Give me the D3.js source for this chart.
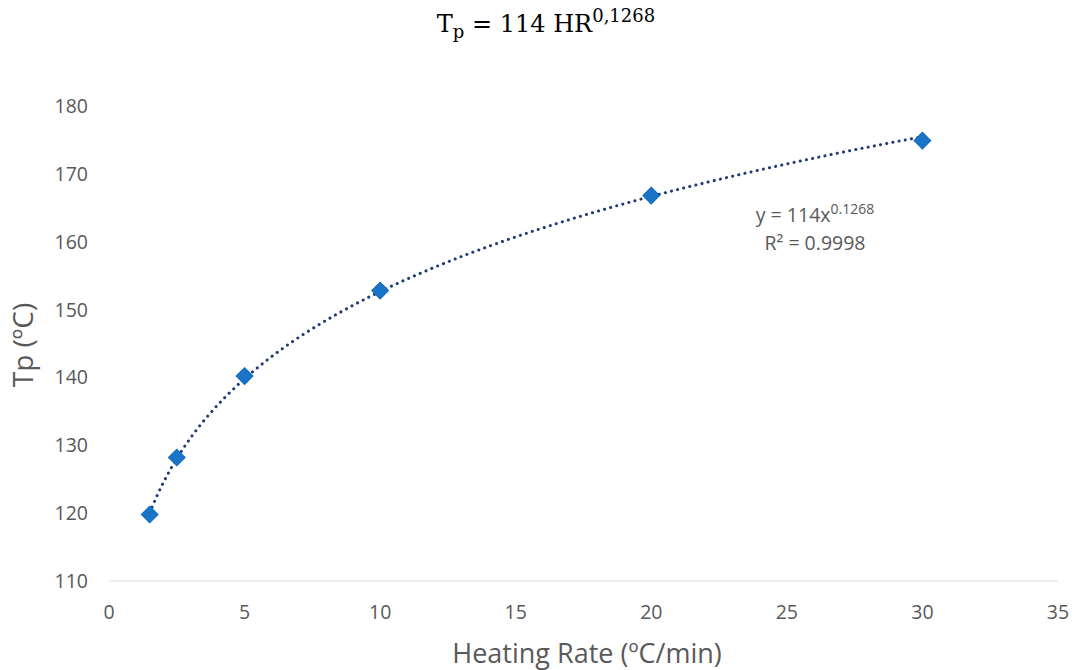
<!DOCTYPE html>
<html>
<head>
<meta charset="utf-8">
<script src="https://cdn.jsdelivr.net/npm/d3@7"></script>
<style>
  html, body { margin: 0; padding: 0; background: #fff; }
  svg { display: block; }
</style>
</head>
<body>
<svg id="chart" width="1080" height="670"></svg>
<script>
// Peak temperature vs heating rate
const heatingRate = [1.5, 2.5, 5, 10, 20, 30];
const peakTemp = [119.8, 128.2, 140.2, 152.8, 166.8, 174.9];
const xTicks = [0, 5, 10, 15, 20, 25, 30, 35];
const yTicks = [110, 120, 130, 140, 150, 160, 170, 180];
// Power-law fit: Tp = a * HR^b
const fitA = 114;
const fitB = 0.1268;
const fitR2 = "0.9998";

const svg = d3.select("#chart");
const margin = { left: 109, right: 22, top: 106, bottom: 89 };
const W = 1080, H = 670;

const x = d3.scaleLinear().domain([0, 35]).range([margin.left, W - margin.right]);
const y = d3.scaleLinear().domain([110, 180]).range([H - margin.bottom, margin.top]);

const grey = "#595959";
const font = "'Open Sans', 'Liberation Sans', sans-serif";

// Title (math style)
const title = svg.append("text")
  .attr("x", 546).attr("y", 32)
  .attr("text-anchor", "middle")
  .attr("font-family", "'DejaVu Serif', 'Liberation Serif', serif")
  .attr("font-size", 24)
  .attr("fill", "#000");
title.append("tspan").text("T");
title.append("tspan").attr("font-size", 18).attr("dy", 6).text("p");
title.append("tspan").attr("dy", -6).text(" = 114 HR");
title.append("tspan").attr("font-size", 18).attr("dy", -10).text("0,1268");

// X axis baseline
svg.append("line")
  .attr("x1", x(0)).attr("x2", x(35))
  .attr("y1", y(110)).attr("y2", y(110))
  .attr("stroke", "#d9d9d9").attr("stroke-width", 1.2);

// X tick labels
svg.append("g").selectAll("text").data(xTicks).join("text")
  .attr("x", d => x(d)).attr("y", y(110) + 38)
  .attr("text-anchor", "middle")
  .attr("font-family", font).attr("font-size", 19.5).attr("fill", grey)
  .text(d => d);

// Y tick labels
svg.append("g").selectAll("text").data(yTicks).join("text")
  .attr("x", 88).attr("y", d => y(d) + 7)
  .attr("text-anchor", "end")
  .attr("font-family", font).attr("font-size", 19.5).attr("fill", grey)
  .text(d => d);

// Axis titles
svg.append("text")
  .attr("x", 587).attr("y", 663)
  .attr("text-anchor", "middle")
  .attr("font-family", font).attr("font-size", 27).attr("fill", grey)
  .text("Heating Rate (ºC/min)");

svg.append("text")
  .attr("transform", `translate(33, 345) rotate(-90)`)
  .attr("text-anchor", "middle")
  .attr("font-family", font).attr("font-size", 28).attr("fill", grey)
  .text("Tp (ºC)");

// Fitted power trendline (dotted)
const xs = d3.range(0, 201).map(i => heatingRate[0] + (heatingRate[heatingRate.length - 1] - heatingRate[0]) * i / 200);
const line = d3.line().x(d => x(d)).y(d => y(fitA * Math.pow(d, fitB)));
svg.append("path")
  .attr("d", line(xs))
  .attr("fill", "none")
  .attr("stroke", "#1f3a78")
  .attr("stroke-width", 3)
  .attr("stroke-linecap", "round")
  .attr("stroke-dasharray", "0.1 6.2");

// Data markers (diamonds)
svg.append("g").selectAll("path").data(heatingRate.map((h, i) => [h, peakTemp[i]])).join("path")
  .attr("transform", d => `translate(${x(d[0])},${y(d[1])}) rotate(45)`)
  .attr("d", d3.symbol().type(d3.symbolSquare).size(140)())
  .attr("fill", "#1a74c8")
  .attr("stroke", "#0e67bd")
  .attr("stroke-width", 1);

// Equation label
const eq = svg.append("text")
  .attr("x", 815).attr("y", 222)
  .attr("text-anchor", "middle")
  .attr("font-family", font).attr("font-size", 19.5).attr("fill", grey);
eq.append("tspan").text(`y = ${fitA}x`);
eq.append("tspan").attr("font-size", 14).attr("dy", -8).text(fitB);

svg.append("text")
  .attr("x", 815).attr("y", 250)
  .attr("text-anchor", "middle")
  .attr("font-family", font).attr("font-size", 19.5).attr("fill", grey)
  .text("R² = " + fitR2);
</script>
</body>
</html>
